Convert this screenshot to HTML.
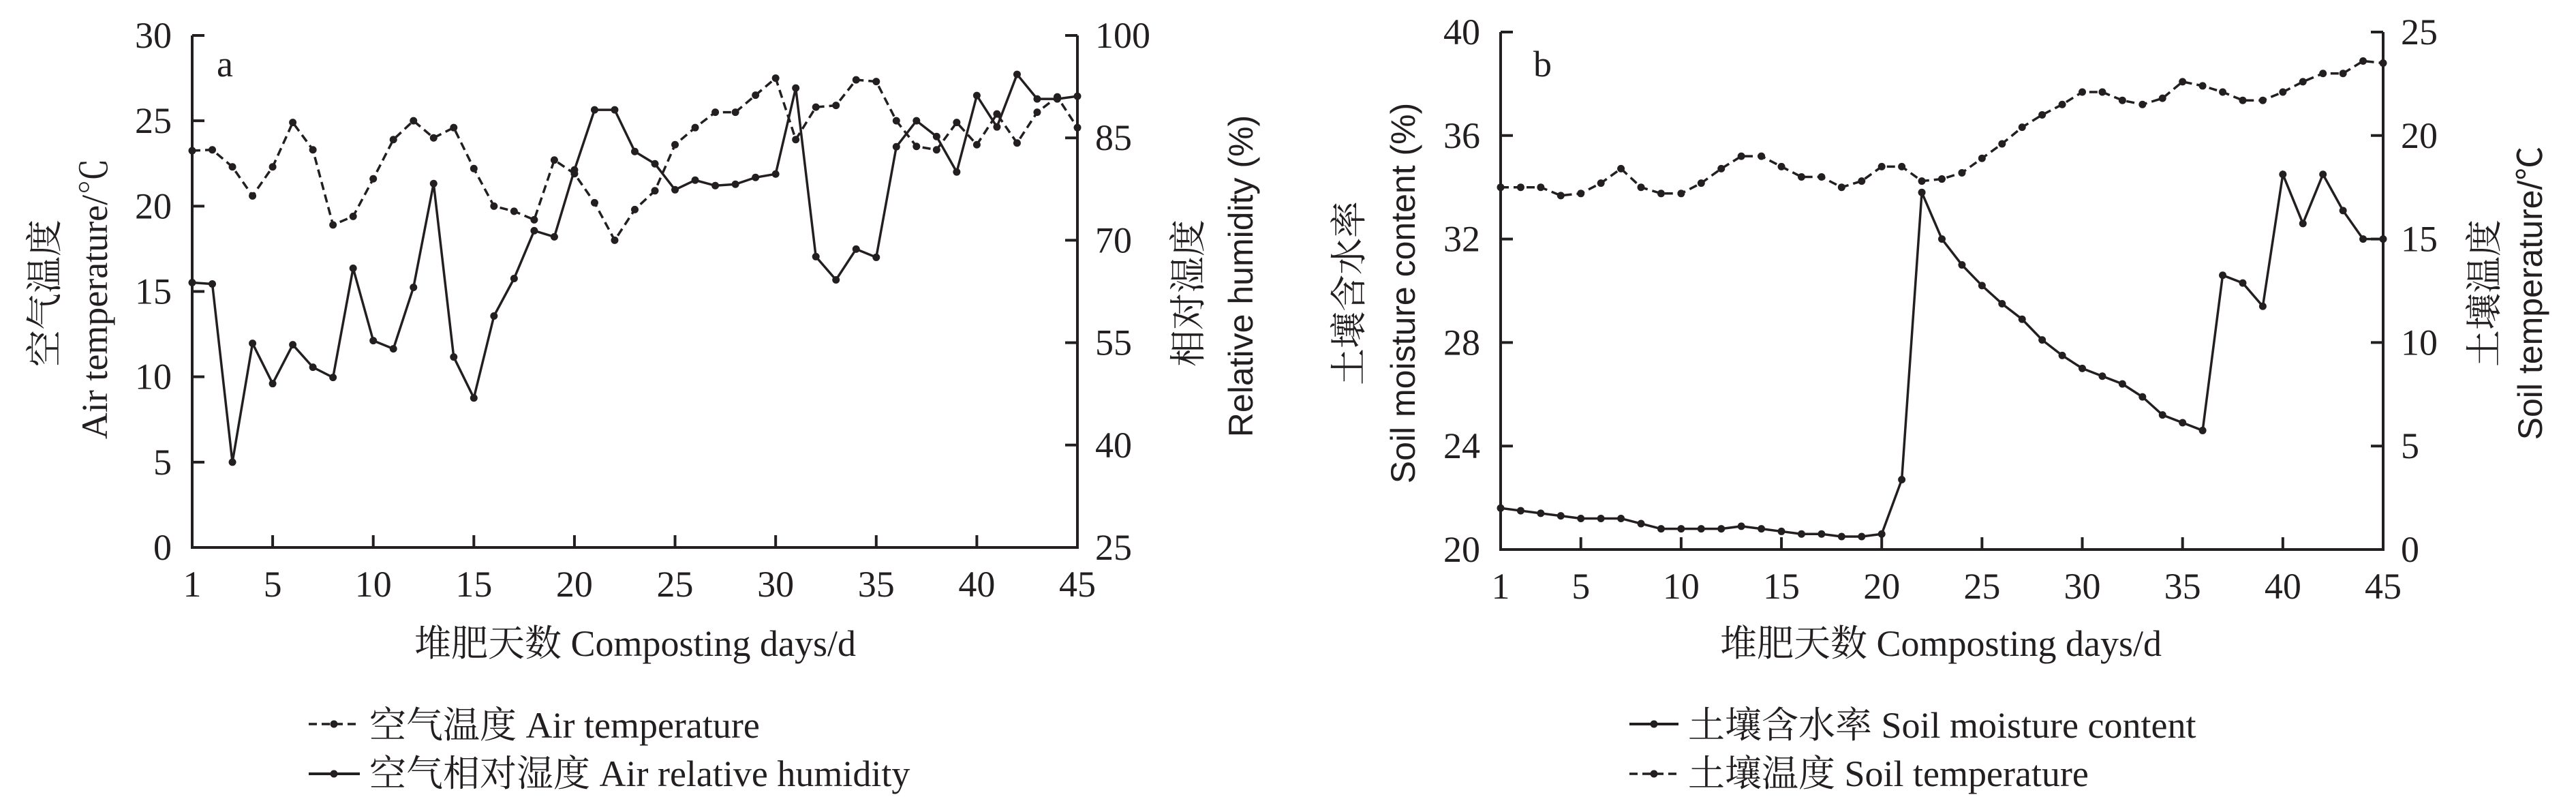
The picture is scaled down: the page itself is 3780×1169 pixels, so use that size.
<!DOCTYPE html>
<html><head><meta charset="utf-8">
<style>
html,body{margin:0;padding:0;background:#fff;}
svg{display:block;}
text{fill:#231f20;}
.tick{font-family:"Liberation Serif","Noto Serif CJK SC",serif;font-size:54px;}
.ttl{font-family:"Liberation Serif","Noto Serif CJK SC",serif;font-size:54px;}
.sans{font-family:"Liberation Sans","Noto Sans CJK SC",sans-serif;font-size:50px;}
</style></head>
<body>
<svg id="chart" width="3780" height="1169" viewBox="0 0 3780 1169" xmlns="http://www.w3.org/2000/svg">
<g id="pa"></g>
<g id="pb"></g>
</svg>
<script>
const xTicks=[1,5,10,15,20,25,30,35,40,45];
const daysA=[1,2,3,4,5,6,7,8,9,10,11,12,13,14,15,16,17,18,19,20,21,22,23,24,25,26,27,28,29,30,31,32,33,34,35,36,37,38,39,40,41,42,43,44,45];
const airTemp=[23.25,23.3,22.3,20.6,22.3,24.9,23.3,18.9,19.4,21.6,23.9,25.0,24.0,24.6,22.2,20.0,19.7,19.2,22.7,21.9,20.2,18.0,19.8,20.9,23.6,24.6,25.5,25.5,26.5,27.5,23.9,25.8,25.9,27.4,27.3,25.0,23.5,23.3,24.9,23.6,25.4,23.7,25.5,26.4,24.6];
const airHum=[63.8,63.6,37.5,54.9,49.0,54.7,51.4,49.9,65.9,55.3,54.1,63.1,78.3,52.9,46.9,58.9,64.4,71.4,70.5,80.3,89.1,89.1,83.0,81.2,77.4,78.8,78.0,78.2,79.2,79.7,92.3,67.6,64.2,68.7,67.5,83.7,87.5,85.2,80.0,91.2,86.6,94.3,90.7,90.7,91.1];
const tempTicksA=[0,5,10,15,20,25,30];
const humTicks=[25,40,55,70,85,100];
const soilMoist=[21.6,21.5,21.4,21.3,21.2,21.2,21.2,21.0,20.8,20.8,20.8,20.8,20.9,20.8,20.7,20.6,20.6,20.5,20.5,20.6,22.7,33.8,32.0,31.0,30.2,29.5,28.9,28.1,27.5,27.0,26.7,26.4,25.9,25.2,24.9,24.6,30.6,30.3,29.4,34.5,32.6,34.5,33.1,32.0,32.0];
const soilTemp=[17.5,17.5,17.5,17.1,17.2,17.7,18.4,17.5,17.2,17.2,17.7,18.4,19.0,19.0,18.5,18.0,18.0,17.5,17.8,18.5,18.5,17.8,17.9,18.2,18.9,19.6,20.4,21.0,21.5,22.1,22.1,21.7,21.5,21.8,22.6,22.4,22.1,21.7,21.7,22.1,22.6,23.0,23.0,23.6,23.5];
const moistTicks=[20,24,28,32,36,40];
const soilTempTicks=[0,5,10,15,20,25];

const NS="http://www.w3.org/2000/svg";
function mk(parent,tag,attrs,txt){const e=document.createElementNS(NS,tag);for(const k in attrs)e.setAttribute(k,attrs[k]);if(txt!==undefined)e.textContent=txt;parent.appendChild(e);return e;}

function panel(g,cfg){
  const L=cfg.L,R=cfg.R,T=cfg.T,B=cfg.B;
  const sx=d=>L+(d-1)*(R-L)/44;
  const syL=v=>B-(v-cfg.lmin)*(B-T)/(cfg.lmax-cfg.lmin);
  const syR=v=>B-(v-cfg.rmin)*(B-T)/(cfg.rmax-cfg.rmin);
  let a=mk(g,'path',{d:`M${L},${T}V${B}H${R}V${T}`,fill:'none',stroke:'#231f20','stroke-width':4});
  
  
  cfg.lt.forEach(v=>{const y=syL(v);
    let t=mk(g,'line',{x1:L,x2:L+18,y1:y,y2:y,stroke:'#231f20','stroke-width':4});
    
    
    let l=mk(g,'text',{x:L-30,y:y+18,'text-anchor':'end',class:'tick'},v);
    
    });
  cfg.rt.forEach(v=>{const y=syR(v);
    let t=mk(g,'line',{x1:R-18,x2:R,y1:y,y2:y,stroke:'#231f20','stroke-width':4});
    
    
    let l=mk(g,'text',{x:R+26,y:y+18,'text-anchor':'start',class:'tick'},v);
    
    });
  xTicks.forEach(v=>{const x=sx(v);
    let t=mk(g,'line',{x1:x,x2:x,y1:B-18,y2:B,stroke:'#231f20','stroke-width':4});
    
    
    let l=mk(g,'text',{x:x,y:B+72,'text-anchor':'middle',class:'tick'},v);
    
    });
  cfg.series.forEach(s=>{
    const sy=s.axis==='L'?syL:syR;
    const pts=s.data.map((v,i)=>[sx(daysA[i]),sy(v)]);
    let p=mk(g,'polyline',{points:pts.map(p=>p.join(',')).join(' '),fill:'none',stroke:'#231f20','stroke-width':3.5,'stroke-dasharray':s.dash?'12 7':'none'});
    
    
    pts.forEach(q=>{let c=mk(g,'circle',{cx:q[0],cy:q[1],r:5.5,fill:'#231f20'});
      
      });
  });
}
const pa=document.getElementById('pa'), pb=document.getElementById('pb');
panel(pa,{L:282,R:1581,T:52,B:803,lmin:0,lmax:30,rmin:25,rmax:100,lt:tempTicksA,rt:humTicks,
  series:[{data:airTemp,axis:'L',dash:true,name:'air-temperature'},{data:airHum,axis:'R',dash:false,name:'air-humidity'}]});
panel(pb,{L:2202,R:3497,T:47,B:806,lmin:20,lmax:40,rmin:0,rmax:25,lt:moistTicks,rt:soilTempTicks,
  series:[{data:soilTemp,axis:'R',dash:true,name:'soil-temperature'},{data:soilMoist,axis:'L',dash:false,name:'soil-moisture'}]});
</script>
<svg width="3780" height="1169" style="position:absolute;left:0;top:0" xmlns="http://www.w3.org/2000/svg">
<text x="318" y="112" class="ttl">a</text>
<text x="2250" y="112" class="ttl">b</text>
<text class="ttl" transform="translate(84,430) rotate(-90)" text-anchor="middle">空气温度</text>
<text class="ttl" transform="translate(157,438) rotate(-90)" text-anchor="middle">Air temperature/℃</text>
<text class="ttl" transform="translate(1762,430) rotate(-90)" text-anchor="middle">相对湿度</text>
<text class="sans" transform="translate(1838,405) rotate(-90)" text-anchor="middle">Relative humidity (%)</text>
<text class="ttl" x="932" y="962" text-anchor="middle">堆肥天数 Composting days/d</text>
<text class="ttl" transform="translate(1998,430) rotate(-90)" text-anchor="middle">土壤含水率</text>
<text class="sans" transform="translate(2076,430) rotate(-90)" text-anchor="middle">Soil moisture content (%)</text>
<text class="ttl" transform="translate(3664,430) rotate(-90)" text-anchor="middle">土壤温度</text>
<text class="sans" transform="translate(3730,430) rotate(-90)" text-anchor="middle">Soil temperature/℃</text>
<text class="ttl" x="2848" y="962" text-anchor="middle">堆肥天数 Composting days/d</text>
<g>
<line x1="453" y1="1062" x2="528" y2="1062" stroke="#231f20" stroke-width="3.5" stroke-dasharray="12 7"/><circle cx="490" cy="1062" r="5.5" fill="#231f20"/>
<text class="ttl" x="542" y="1082">空气温度 Air temperature</text>
<line x1="453" y1="1135" x2="528" y2="1135" stroke="#231f20" stroke-width="4"/><circle cx="490" cy="1135" r="5.5" fill="#231f20"/>
<text class="ttl" x="542" y="1153">空气相对湿度 Air relative humidity</text>
</g>
<g>
<line x1="2391" y1="1062" x2="2463" y2="1062" stroke="#231f20" stroke-width="4"/><circle cx="2427" cy="1062" r="5.5" fill="#231f20"/>
<text class="ttl" x="2477" y="1082">土壤含水率 Soil moisture content</text>
<line x1="2391" y1="1135" x2="2463" y2="1135" stroke="#231f20" stroke-width="3.5" stroke-dasharray="12 7"/><circle cx="2427" cy="1135" r="5.5" fill="#231f20"/>
<text class="ttl" x="2477" y="1153">土壤温度 Soil temperature</text>
</g>
</svg>
</body></html>
